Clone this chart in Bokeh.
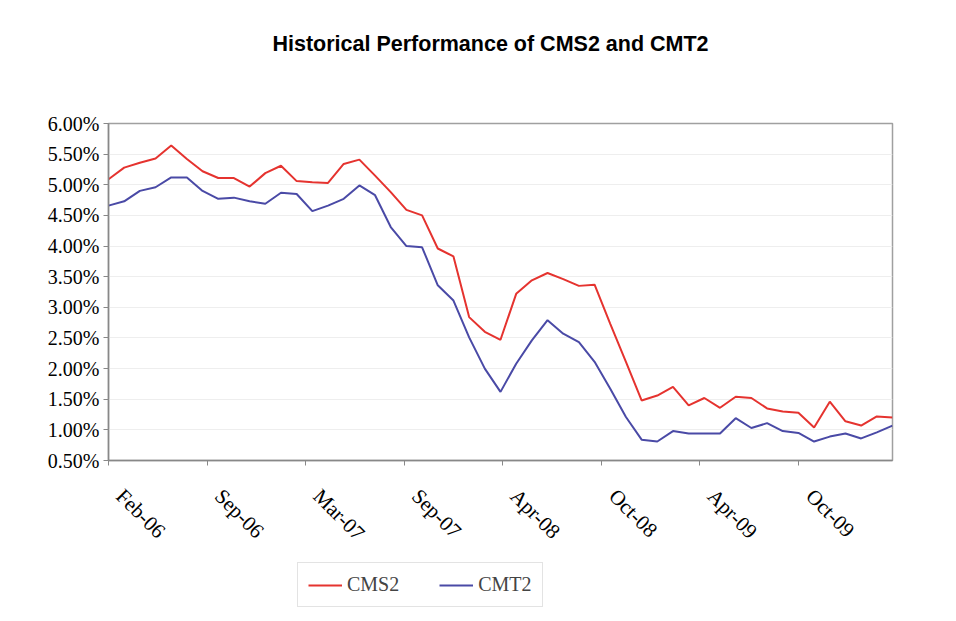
import math
from bokeh.plotting import figure
from bokeh.layouts import column
from bokeh.models import (Range1d, FixedTicker, PrintfTickFormatter, Legend, LegendItem,
                          ColumnDataSource, LinearAxis, Label)
from bokeh.embed import file_html
from bokeh.resources import INLINE

# ---- data (monthly, Feb-06 .. Apr-10), values in percent ----
months = ["Feb-06", "Mar-06", "Apr-06", "May-06", "Jun-06", "Jul-06", "Aug-06", "Sep-06",
          "Oct-06", "Nov-06", "Dec-06", "Jan-07", "Feb-07", "Mar-07", "Apr-07", "May-07",
          "Jun-07", "Jul-07", "Aug-07", "Sep-07", "Oct-07", "Nov-07", "Dec-07", "Jan-08",
          "Feb-08", "Mar-08", "Apr-08", "May-08", "Jun-08", "Jul-08", "Aug-08", "Sep-08",
          "Oct-08", "Nov-08", "Dec-08", "Jan-09", "Feb-09", "Mar-09", "Apr-09", "May-09",
          "Jun-09", "Jul-09", "Aug-09", "Sep-09", "Oct-09", "Nov-09", "Dec-09", "Jan-10",
          "Feb-10", "Mar-10", "Apr-10"]

cms2 = [5.09, 5.28, 5.36, 5.43, 5.64, 5.42, 5.22, 5.11, 5.11, 4.97,
        5.19, 5.31, 5.06, 5.04, 5.03, 5.34, 5.41, 5.15, 4.88, 4.59,
        4.50, 3.96, 3.83, 2.84, 2.60, 2.47, 3.22, 3.44, 3.56, 3.46,
        3.35, 3.37, 2.73, 2.11, 1.48, 1.56, 1.70, 1.40, 1.52, 1.36,
        1.54, 1.52, 1.35, 1.30, 1.28, 1.04, 1.46, 1.14, 1.07, 1.22,
        1.20]

cmt2 = [4.66, 4.73, 4.90, 4.96, 5.12, 5.12, 4.90, 4.77, 4.79, 4.73,
        4.69, 4.87, 4.85, 4.57, 4.66, 4.77, 4.99, 4.83, 4.31, 4.00,
        3.98, 3.36, 3.11, 2.51, 2.00, 1.62, 2.08, 2.46, 2.79, 2.57,
        2.43, 2.11, 1.67, 1.21, 0.84, 0.81, 0.98, 0.94, 0.94, 0.94,
        1.19, 1.03, 1.11, 0.98, 0.95, 0.81, 0.89, 0.94, 0.86, 0.96,
        1.07]

tick_labels = ["Feb-06", "Sep-06", "Mar-07", "Sep-07", "Apr-08", "Oct-08", "Apr-09", "Oct-09"]
y_ticks = [0.5, 1.0, 1.5, 2.0, 2.5, 3.0, 3.5, 4.0, 4.5, 5.0, 5.5, 6.0]
title_text = "Historical Performance of CMS2 and CMT2"

x = list(range(len(months)))
tick_step = 44 / 7
tick_pos = [k * tick_step for k in range(len(tick_labels))]
label_shift = 0.72  # labels sit a little right of their tick marks

RED = "#e5332f"
BLUE = "#4a4aa6"
serif = "Liberation Serif"

src = ColumnDataSource(dict(x=x, month=months, cms2=cms2, cmt2=cmt2))
x_start, x_end = 0, len(months) - 1

# ---- title strip ----
tf = figure(frame_width=784, frame_height=80,
            min_border_left=108, min_border_right=56,
            min_border_top=0, min_border_bottom=0,
            x_range=Range1d(0, 1), y_range=Range1d(0, 1),
            x_axis_location=None, y_axis_location=None,
            output_backend="svg", toolbar_location=None)
tf.grid.visible = False
tf.outline_line_color = None
tf.border_fill_color = "white"
tf.add_layout(Label(x=382, y=37, x_units="screen", y_units="screen",
                    text=title_text, text_align="center", text_baseline="middle",
                    text_font="Liberation Sans", text_font_style="bold",
                    text_font_size="21.5px", text_color="black"))

# ---- main chart ----
p = figure(frame_width=784, frame_height=337,
           min_border_left=108, min_border_right=56,
           min_border_top=43, min_border_bottom=100,
           x_range=Range1d(x_start, x_end), y_range=Range1d(0.5, 6.0),
           x_axis_location=None,
           output_backend="svg", toolbar_location=None)
p.extra_x_ranges = {"lab": Range1d(x_start - label_shift, x_end - label_shift)}

# x axis: line and tick marks only
tick_ax = LinearAxis(ticker=FixedTicker(ticks=tick_pos))
tick_ax.major_label_overrides = {t: " " for t in tick_pos}
tick_ax.major_label_text_font_size = "1px"
tick_ax.major_label_text_alpha = 0
tick_ax.major_label_standoff = 0
tick_ax.axis_line_color = "#888888"
tick_ax.axis_line_width = 1.5
tick_ax.major_tick_line_color = "#888888"
tick_ax.major_tick_out = 5
tick_ax.major_tick_in = 0
tick_ax.minor_tick_line_color = None
p.add_layout(tick_ax, "below")

# x axis labels (slightly offset to the right, as in the original)
lab_ax = LinearAxis(x_range_name="lab", ticker=FixedTicker(ticks=tick_pos))
lab_ax.major_label_overrides = {t: lab for t, lab in zip(tick_pos, tick_labels)}
lab_ax.major_label_orientation = -math.pi / 4
lab_ax.major_label_text_font = serif
lab_ax.major_label_text_font_size = "21px"
lab_ax.major_label_text_color = "black"
lab_ax.axis_line_color = None
lab_ax.major_tick_line_color = None
lab_ax.minor_tick_line_color = None
lab_ax.major_tick_out = 0
lab_ax.major_tick_in = 0
lab_ax.major_label_standoff = 27
p.add_layout(lab_ax, "below")

p.line("x", "cms2", source=src, line_color=RED, line_width=2)
p.line("x", "cmt2", source=src, line_color=BLUE, line_width=2)

# y axis
yax = p.yaxis[0]
yax.ticker = FixedTicker(ticks=y_ticks)
yax.formatter = PrintfTickFormatter(format="%.2f%%")
yax.major_label_text_font = serif
yax.major_label_text_font_size = "20px"
yax.major_label_text_color = "black"
yax.axis_line_color = "#888888"
yax.axis_line_width = 1.5
yax.major_tick_line_color = "#888888"
yax.major_tick_out = 5
yax.major_tick_in = 0
yax.minor_tick_line_color = None
yax.major_label_standoff = 4

p.xgrid.grid_line_color = None
p.ygrid.ticker = FixedTicker(ticks=y_ticks)
p.ygrid.grid_line_color = "#eeeeee"
p.ygrid.grid_line_width = 1

p.outline_line_color = "#a0a0a0"
p.outline_line_width = 1.5
p.background_fill_color = "white"
p.border_fill_color = "white"

# ---- legend strip underneath (series lie outside its visible range) ----
lg = figure(frame_width=784, frame_height=50,
            min_border_left=108, min_border_right=56,
            min_border_top=0, min_border_bottom=0,
            x_range=Range1d(x_start, x_end), y_range=Range1d(-20, -10),
            x_axis_location=None, y_axis_location=None,
            output_backend="svg", toolbar_location=None)
lg.grid.visible = False
lg.outline_line_color = None
lg.border_fill_color = "white"
k1 = lg.line("x", "cms2", source=src, line_color=RED, line_width=2)
k2 = lg.line("x", "cmt2", source=src, line_color=BLUE, line_width=2)

legend = Legend(items=[LegendItem(label="CMS2", renderers=[k1]),
                       LegendItem(label="CMT2", renderers=[k2])],
                location=(189, 3), orientation="horizontal",
                label_text_font=serif, label_text_font_size="20px",
                glyph_width=34, glyph_height=20, label_standoff=5,
                spacing=40, padding=10, margin=0,
                border_line_color="#c8c8c8", border_line_width=1.2,
                background_fill_alpha=1.0)
lg.add_layout(legend, "center")

layout = column(tf, p, lg, spacing=0)
open("out.html", "w").write(file_html(layout, INLINE))
